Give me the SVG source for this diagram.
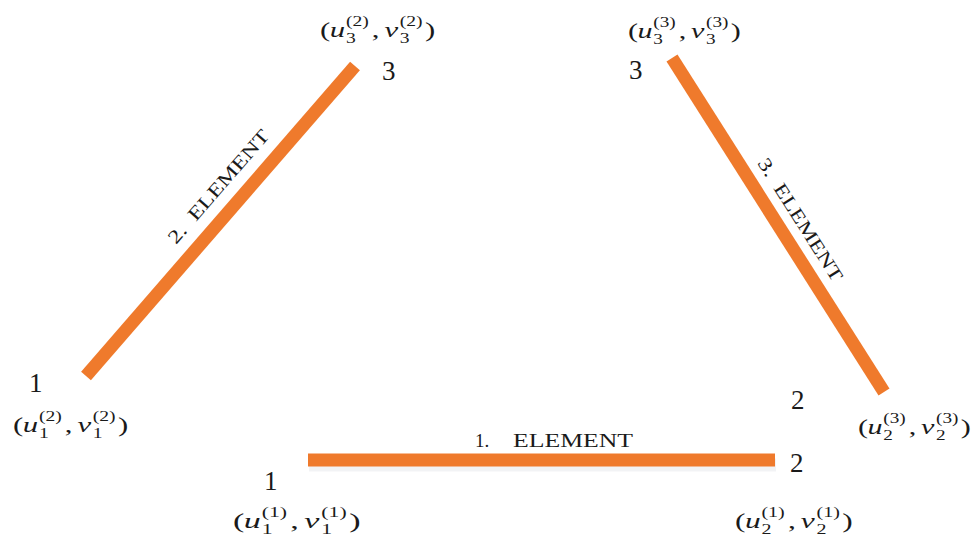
<svg xmlns="http://www.w3.org/2000/svg" width="974" height="538" viewBox="0 0 974 538">
<style>
.bar{stroke:#EF7A2C;stroke-width:13;stroke-linecap:butt;fill:none}
.sh{stroke:#d9dde3;stroke-width:13;opacity:0.35;fill:none}
.num{font-family:"Liberation Serif",serif;font-size:27px;fill:#1a1a1a}
.el{font-family:"Liberation Serif",serif;font-size:19px;fill:#1a1a1a;white-space:pre}
.p{font-family:"Liberation Serif",serif;font-size:22px;fill:#1a1a1a}
.i{font-family:"Liberation Serif",serif;font-size:22px;font-style:italic;fill:#1a1a1a}
.s{font-family:"Liberation Serif",serif;font-size:14px;fill:#1a1a1a}
</style>
<rect width="974" height="538" fill="#fff"/>
<g id="connectors">
  <line class="sh" x1="309" y1="465" x2="776" y2="465"/>
  <line class="bar" x1="308" y1="460" x2="775" y2="460"/>
  <line class="bar" x1="86" y1="376" x2="355" y2="66"/>
  <line class="bar" x1="672" y1="58" x2="884" y2="392"/>
  <text class="el" x="475" y="447">1.</text>
  <text class="el" x="513" y="447" textLength="120" lengthAdjust="spacingAndGlyphs">ELEMENT</text>
  <text class="el" transform="translate(176,245) rotate(-49)" textLength="144" lengthAdjust="spacingAndGlyphs">2.  ELEMENT</text>
  <text class="el" transform="translate(757,163) rotate(57.6)" textLength="142" lengthAdjust="spacingAndGlyphs">3.  ELEMENT</text>
</g>
<g id="node-e1-1">
  <text class="num" x="264" y="490">1</text>
  <g transform="translate(233,528) scale(1.55,1)">
    <text class="p" x="0">(</text><text class="i" x="7">u</text><text class="s" x="18.5" y="6">1</text><text class="s" x="18.5" y="-11">(1)</text><text class="p" x="37">,</text><text class="i" x="46">v</text><text class="s" x="57" y="6">1</text><text class="s" x="57" y="-11">(1)</text><text class="p" x="75">)</text>
  </g>
</g>
<g id="node-e1-2">
  <text class="num" x="790" y="472">2</text>
  <g transform="translate(735,528) scale(1.43,1)">
    <text class="p" x="0">(</text><text class="i" x="7">u</text><text class="s" x="18.5" y="6">2</text><text class="s" x="18.5" y="-11">(1)</text><text class="p" x="37">,</text><text class="i" x="46">v</text><text class="s" x="57" y="6">2</text><text class="s" x="57" y="-11">(1)</text><text class="p" x="75">)</text>
  </g>
</g>
<g id="node-e2-1">
  <text class="num" x="29" y="392">1</text>
  <g transform="translate(13,432) scale(1.4,1)">
    <text class="p" x="0">(</text><text class="i" x="7">u</text><text class="s" x="18.5" y="6">1</text><text class="s" x="18.5" y="-11">(2)</text><text class="p" x="37">,</text><text class="i" x="46">v</text><text class="s" x="57" y="6">1</text><text class="s" x="57" y="-11">(2)</text><text class="p" x="75">)</text>
  </g>
</g>
<g id="node-e2-3">
  <text class="num" x="382" y="80">3</text>
  <g transform="translate(320,37) scale(1.4,1)">
    <text class="p" x="0">(</text><text class="i" x="7">u</text><text class="s" x="18.5" y="6">3</text><text class="s" x="18.5" y="-11">(2)</text><text class="p" x="37">,</text><text class="i" x="46">v</text><text class="s" x="57" y="6">3</text><text class="s" x="57" y="-11">(2)</text><text class="p" x="75">)</text>
  </g>
</g>
<g id="node-e3-3">
  <text class="num" x="629" y="79">3</text>
  <g transform="translate(628,38) scale(1.37,1)">
    <text class="p" x="0">(</text><text class="i" x="7">u</text><text class="s" x="18.5" y="6">3</text><text class="s" x="18.5" y="-11">(3)</text><text class="p" x="37">,</text><text class="i" x="46">v</text><text class="s" x="57" y="6">3</text><text class="s" x="57" y="-11">(3)</text><text class="p" x="75">)</text>
  </g>
</g>
<g id="node-e3-2">
  <text class="num" x="791" y="409">2</text>
  <g transform="translate(858,434) scale(1.37,1)">
    <text class="p" x="0">(</text><text class="i" x="7">u</text><text class="s" x="18.5" y="6">2</text><text class="s" x="18.5" y="-11">(3)</text><text class="p" x="37">,</text><text class="i" x="46">v</text><text class="s" x="57" y="6">2</text><text class="s" x="57" y="-11">(3)</text><text class="p" x="75">)</text>
  </g>
</g>
</svg>
